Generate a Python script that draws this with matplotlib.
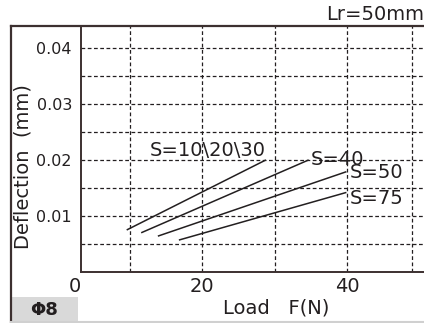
import matplotlib.pyplot as plt
from matplotlib.lines import Line2D
from matplotlib.patches import Rectangle

# load (N) and deflection (mm) at the two ends of each curve
labels = ['S=10\\20\\30', 'S=40', 'S=50', 'S=75']
load_start = [9.6, 11.6, 13.9, 16.8]
load_end = [28.8, 34.7, 39.9, 39.9]
defl_start = [0.0075, 0.0070, 0.0064, 0.0057]
defl_end = [0.0200, 0.0200, 0.0179, 0.0142]

y_ticks = [0.01, 0.02, 0.03, 0.04]
y_grid = [0.005, 0.01, 0.015, 0.02, 0.025, 0.03, 0.035, 0.04]
x_grid = [10, 20, 30, 40, 49]

ink = '#231f20'
W, H = 424, 323

fig = plt.figure(figsize=(W / 100, H / 100), dpi=100)
ax = fig.add_axes([81 / W, (H - 272) / H, 1 - 81 / W, (272 - 26) / H])

for i in range(len(labels)):
    ax.plot([load_start[i], load_end[i]], [defl_start[i], defl_end[i]],
            color=ink, lw=1.1, solid_capstyle='butt')

for g in y_grid:
    ax.axhline(g, color=ink, lw=0.9, ls=(0, (3, 2)))
for g in x_grid:
    ax.axvline(g, color=ink, lw=0.9, ls=(0, (3, 2)))

# curve labels
ax.text(28.8, 0.0200, labels[0], fontsize=14, color=ink, ha='right', va='bottom')
ax.text(35.0, 0.0200, labels[1], fontsize=14, color=ink, ha='left', va='center')
ax.text(40.4, 0.0178, labels[2], fontsize=14, color=ink, ha='left', va='center')
ax.text(40.4, 0.0132, labels[3], fontsize=14, color=ink, ha='left', va='center')

xmin, xmax = 3.3, 50.6
ax.set_xlim(xmin, xmax)
ax.set_ylim(0, 0.0439)

ax.set_yticks(y_ticks)
ax.set_yticklabels(['0.01', '0.02', '0.03', '0.04'], fontsize=11.5, color=ink)
ax.set_xticks([xmin, 20, 40])
ax.set_xticklabels(['0', '20', '40'], fontsize=14, color=ink)
ax.tick_params(axis='y', length=0, pad=6.5)
ax.tick_params(axis='x', length=0, pad=3.5)
ax.get_xticklabels()[0].set_horizontalalignment('right')

for s in ['top', 'right']:
    ax.spines[s].set_visible(False)
for s in ['left', 'bottom']:
    ax.spines[s].set_color('#3c3030')
    ax.spines[s].set_linewidth(1.4)

ax.set_ylabel('Deflection  (mm)', fontsize=14, color=ink, labelpad=2)
ax.yaxis.set_label_coords(-0.14, 0.43)

fig.text(276 / W, 1 - 308 / H, 'Load   F(N)', fontsize=14, color=ink, ha='center', va='center')
fig.text(1.0, 1 - 15 / H, 'Lr=50mm', fontsize=14, color=ink, ha='right', va='center')

# outer frame and size box
fig.add_artist(Line2D([11 / W, 1.0], [1 - 26 / H, 1 - 26 / H], color='#3c3030', lw=1.6))
fig.add_artist(Line2D([11 / W, 11 / W], [0, 1 - 26 / H], color='#3c3030', lw=1.6))
fig.add_artist(Line2D([11 / W, 1.0], [1 / H, 1 / H], color='#d0d0d0', lw=1.5))
fig.add_artist(Rectangle((12 / W, 2 / H), 66 / W, 24 / H, transform=fig.transFigure,
                         facecolor='#d9d9d9', edgecolor='none'))
fig.text(44 / W, 1 - 310 / H, 'Φ8', fontsize=13, fontweight='bold', color=ink,
         ha='center', va='center')

fig.savefig('out.png', dpi=100)
